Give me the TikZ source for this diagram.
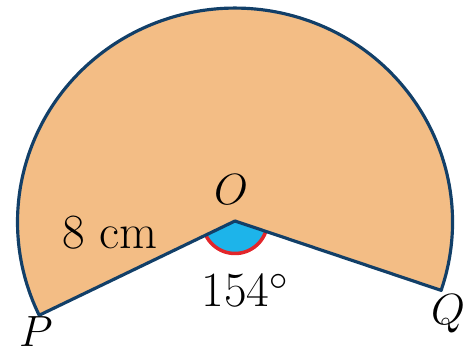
\documentclass[tikz,border=0pt]{standalone}
\usetikzlibrary{positioning}
\definecolor{sectorfill}{HTML}{F3BD85}
\definecolor{edgeblue}{HTML}{123F68}
\definecolor{markblue}{HTML}{1DB4EA}
\definecolor{markred}{HTML}{E2262B}
\begin{document}
\begin{tikzpicture}[
    edge/.style={draw=edgeblue, line width=1.8pt, line join=round},
    lbl/.style={font=\fontsize{28}{32}\selectfont, inner sep=0pt}
]
    \useasboundingbox (-4.70,-2.66) rectangle (4.78,4.42);

    % Points
    \coordinate (O) at (0,0);
    \coordinate (P) at (205.8:4.3);
    \coordinate (Q) at (-18.6:4.35);

    % Sector
    \fill[sectorfill] (O) -- (Q) arc[start angle=-18.6, end angle=205.8, x radius=4.35, y radius=4.28] -- cycle;

    % Angle mark
    \fill[markblue] (O) -- (205.8:0.65) arc[start angle=205.8, end angle=341.4, radius=0.65] -- cycle;
    \draw[markred, line width=2pt] (205.8:0.65) arc[start angle=205.8, end angle=341.4, radius=0.65];

    % Outline
    \draw[edge] (O) -- (Q) arc[start angle=-18.6, end angle=205.8, x radius=4.35, y radius=4.28] -- cycle;

    % Labels
    \node[lbl] (lO) at (-0.08,0.62) {$O$};
    \node[lbl] (lP) at (-3.98,-2.22) {$P$};
    \node[lbl] (lQ) at (4.26,-1.86) {$Q$};
    \node[lbl] (radius) at (-2.5,-0.24) {8 cm};
    \node[lbl] (angle) at (0.2,-1.38) {154$^\circ$};
\end{tikzpicture}
\end{document}
